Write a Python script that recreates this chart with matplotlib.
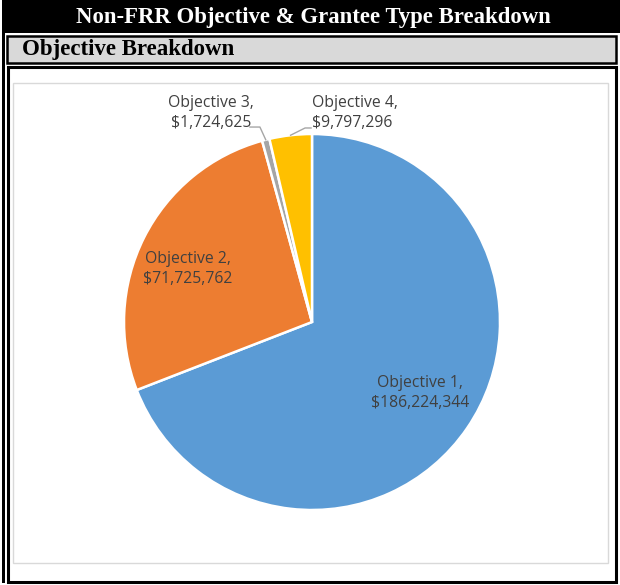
import numpy as np
import matplotlib
matplotlib.use("Agg")
import matplotlib.pyplot as plt
from matplotlib.patches import Rectangle

W, H = 620, 585

# data
labels = ["Objective 1", "Objective 2", "Objective 3", "Objective 4"]
values = [186224344, 71725762, 1724625, 9797296]
colors = ["#5B9BD5", "#ED7D31", "#A5A5A5", "#FFC000"]

title = "Non-FRR Objective & Grantee Type Breakdown"
subtitle = "Objective Breakdown"


def box(x0, y0, x1, y1, **kw):
    # pixel coords (top-left origin) -> figure fraction
    r = Rectangle((x0 / W, 1 - y1 / H), (x1 - x0) / W, (y1 - y0) / H,
                  transform=fig.transFigure, **kw)
    fig.add_artist(r)


fig = plt.figure(figsize=(W / 100, H / 100), dpi=100)

# header and frames
box(2, 0, 620, 33, facecolor="black", edgecolor="none")
box(2, 0, 5, 583, facecolor="black", edgecolor="none")
box(6.5, 36, 615.5, 63, facecolor="#D9D9D9", edgecolor="black", linewidth=1.8)
box(8, 67, 616, 581.5, facecolor="none", edgecolor="black", linewidth=2.2)
box(13, 83, 608, 563, facecolor="none", edgecolor="#D9D9D9", linewidth=1)

fig.text(313 / W, 1 - 17 / H, title, color="white", fontsize=16.4,
         fontweight="bold", family="Liberation Serif", ha="center", va="center")
fig.text(22 / W, 1 - 50 / H, subtitle, color="black", fontsize=16.5,
         fontweight="bold", family="Liberation Serif", ha="left", va="center")

# pie
cx, cy, r = 312, 322, 188
ax = fig.add_axes([(cx - r) / W, 1 - (cy + r) / H, 2 * r / W, 2 * r / H])
wedges, _ = ax.pie(values, colors=colors, startangle=90, counterclock=False,
                   radius=1, wedgeprops=dict(edgecolor="white", linewidth=1.8))
ax.set_xlim(-1, 1)
ax.set_ylim(-1, 1)
ax.set_aspect("equal")
ax.axis("off")

txt = dict(color="#404040", fontsize=11.3, family="Open Sans",
           linespacing=1.32, clip_on=False)
lab = [f"{n},\n${v:,.0f}" for n, v in zip(labels, values)]

ax.text(0.575, -0.378, lab[0], ha="center", va="center", **txt)
ax.text(-0.66, 0.282, lab[1], ha="center", va="center", **txt)

# small slices with leader lines
lead = dict(color="#A6A6A6", lw=1, clip_on=False)
w = wedges[2]
mid = np.deg2rad((w.theta1 + w.theta2) / 2)
ax.text(-0.537, 1.112, lab[2], ha="center", va="center", **txt)
ax.plot([-0.33, -0.277, np.cos(mid)], [1.037, 1.037, np.sin(mid)], **lead)

w = wedges[3]
mid = np.deg2rad((w.theta1 + w.theta2) / 2)
ax.text(0.0, 1.112, lab[3], ha="left", va="center", **txt)
ax.plot([np.cos(mid), -0.037, -0.005], [np.sin(mid), 1.032, 1.032], **lead)

fig.savefig("out.png", dpi=100)
